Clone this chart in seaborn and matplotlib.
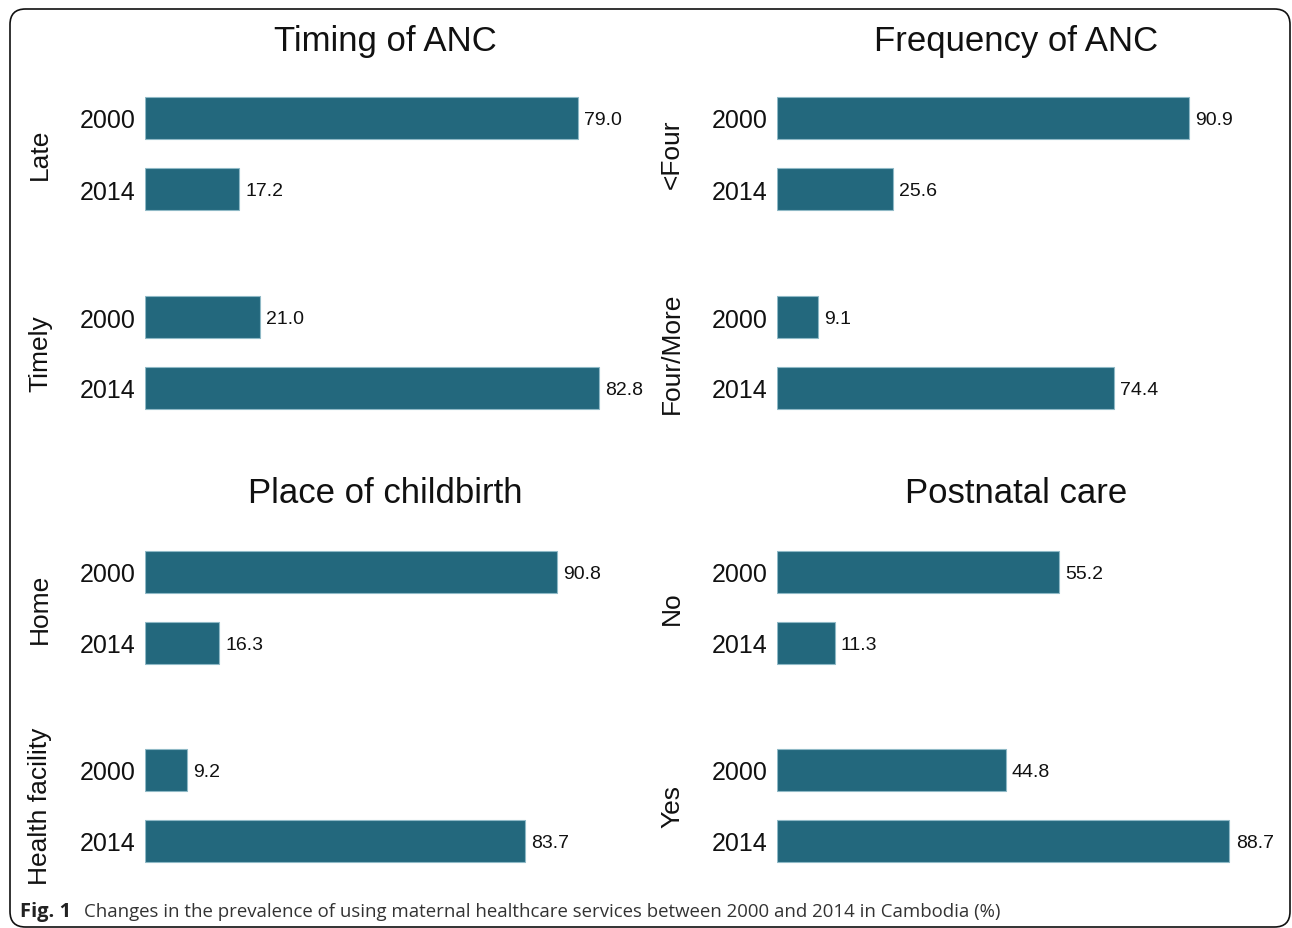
import matplotlib
matplotlib.use("Agg")
import matplotlib.pyplot as plt
from matplotlib.patches import FancyBboxPatch
import seaborn as sns
import pandas as pd

# ---- data ----
panel_titles = ["Timing of ANC", "Frequency of ANC", "Place of childbirth", "Postnatal care"]
years = ["2000", "2014"]
timing_groups = ["Late", "Timely"]
timing_values = [[79.0, 17.2], [21.0, 82.8]]
frequency_groups = ["<Four", "Four/More"]
frequency_values = [[90.9, 25.6], [9.1, 74.4]]
place_groups = ["Home", "Health facility"]
place_values = [[90.8, 16.3], [9.2, 83.7]]
postnatal_groups = ["No", "Yes"]
postnatal_values = [[55.2, 11.3], [44.8, 88.7]]
caption_bold = "Fig. 1"
caption_text = "Changes in the prevalence of using maternal healthcare services between 2000 and 2014 in Cambodia (%)"

W, H = 1292, 929
sns.set_theme(style="white")
plt.rcParams["font.family"] = ["Liberation Sans", "DejaVu Sans"]

fig = plt.figure(figsize=(W / 100, H / 100), dpi=100)
fig.patch.set_facecolor("white")

BAR = "#23687D"
EDGE = "#8fb9c6"

panels = [
    (timing_groups, timing_values, 145, 92.1, [(76.4, 232.6), (275.4, 431.6)], 385, 42),
    (frequency_groups, frequency_values, 777, 111.5, [(76.4, 232.6), (275.4, 431.6)], 1016, 42),
    (place_groups, place_values, 145, 111.3, [(530.4, 686.6), (728.4, 884.6)], 385, 494),
    (postnatal_groups, postnatal_values, 777, 99.0, [(530.4, 686.6), (728.4, 884.6)], 1016, 494),
]
AX_W = 505

for (groups, values, x0, xmax, yranges, tx, ty), title in zip(panels, panel_titles):
    fig.text(tx / W, 1 - ty / H, title, ha="center", va="center", fontsize=25, color="#111111")
    for g, vals, (ya, yb) in zip(groups, values, yranges):
        ax = fig.add_axes([x0 / W, 1 - yb / H, AX_W / W, (yb - ya) / H])
        df = pd.DataFrame({"year": years, "value": vals})
        sns.barplot(data=df, x="value", y="year", order=years, orient="h",
                    color=BAR, width=0.6, edgecolor=EDGE, linewidth=0.8,
                    saturation=1, ax=ax)
        ax.set_xlim(0, xmax)
        ax.set_ylim(1.6, -0.6)
        ax.set_xlabel("")
        ax.set_ylabel("")
        ax.set_xticks([])
        ax.tick_params(axis="y", length=0, pad=7, labelsize=18, labelcolor="#111111")
        for s in ax.spines.values():
            s.set_visible(False)
        ax.set_facecolor("none")
        for i, v in enumerate(vals):
            ax.annotate(f"{v:.1f}", (v, i), xytext=(4.5, -1.2), textcoords="offset points",
                        va="center", ha="left", fontsize=14, color="#111111")
        # group (strip) label
        gx = x0 - 105
        fig.text(gx / W, 1 - ((ya + yb) / 2) / H, g, rotation=90, ha="center",
                 va="center", fontsize=19, color="#111111")

# caption
fig.text(20 / W, 1 - 912 / H, caption_bold, ha="left", va="center", fontsize=14.5,
         fontweight="bold", family=["Open Sans", "DejaVu Sans"], color="#222222")
fig.text(84 / W, 1 - 912 / H, caption_text, ha="left", va="center", fontsize=13.4,
         family=["Open Sans", "DejaVu Sans"], color="#333333")

# rounded frame
frame = FancyBboxPatch((10 / W, 1 - 928 / H), 1280 / W, 918 / H,
                       boxstyle="round,pad=0,rounding_size=0.012",
                       transform=fig.transFigure, fill=False,
                       edgecolor="#111111", linewidth=1.2, mutation_aspect=W / H)
fig.patches.append(frame)

fig.savefig("out.png", dpi=100, facecolor="white")
